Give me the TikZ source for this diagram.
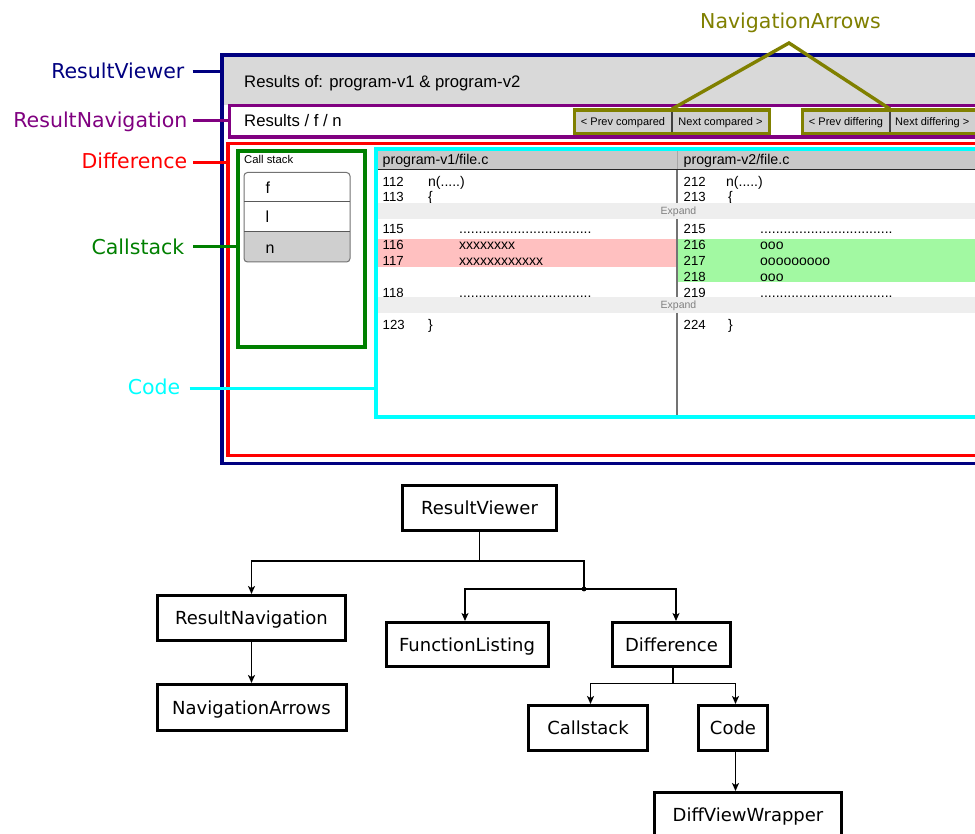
\documentclass[tikz,border=0pt]{standalone}
\usepackage{fontspec}
\setmainfont{DejaVu Sans}
\newfontfamily\uifont{Liberation Sans}
\usetikzlibrary{arrows.meta}

\definecolor{rvnavy}{HTML}{000080}
\definecolor{rvpurple}{HTML}{800080}
\definecolor{rvred}{HTML}{FF0000}
\definecolor{rvgreen}{HTML}{008000}
\definecolor{rvcyan}{HTML}{00FFFF}
\definecolor{rvolive}{HTML}{808000}
\definecolor{hdrgray}{HTML}{D9D9D9}
\definecolor{btngray}{HTML}{D0D0D0}
\definecolor{colgray}{HTML}{C8C8C8}
\definecolor{expgray}{HTML}{EEEEEE}
\definecolor{delred}{HTML}{FFC0C0}
\definecolor{addgreen}{HTML}{A2F9A2}
\definecolor{rowgray}{HTML}{CFCFCF}

\newcommand\dotrun{..................................}

\begin{document}
\begin{tikzpicture}[x=1pt,y=-1pt,
  callout/.style={font=\fontsize{20.5}{24}\selectfont, inner sep=0pt,
                  text height=14.8pt, text depth=0pt, anchor=east},
  leader/.style={line width=3pt},
  tbox/.style={draw, line width=3pt, font=\fontsize{18}{22}\selectfont,
               inner sep=0pt, text height=13.1pt, text depth=0pt},
  wire/.style={line width=1.6pt},
  edge/.style={wire, -{Stealth[length=8pt,width=7pt,inset=2pt]}},
  uitext/.style={font=\uifont\fontsize{16.7}{20}\selectfont, inner sep=0pt, anchor=mid west, yshift=-2.5pt},
  btntext/.style={font=\uifont\fontsize{11}{13}\selectfont, inner sep=0pt, yshift=-1pt},
  codetext/.style={font=\uifont\fontsize{14}{16}\selectfont, inner sep=0pt, anchor=mid west, yshift=-2.2pt},
  lnum/.style={font=\uifont\fontsize{13.2}{16}\selectfont, inner sep=0pt, anchor=mid west, yshift=-2.2pt},
  exptext/.style={font=\uifont\fontsize{10.5}{12}\selectfont, text=black!50, inner sep=0pt},
  listtext/.style={font=\uifont\fontsize{16}{18}\selectfont, inner sep=0pt, anchor=mid west, yshift=-2.5pt},
]
\clip (0,0) rectangle (975,834);
\fill[white] (0,0) rectangle (975,834);

% ---------------- application window ----------------
\fill[hdrgray] (222,55) rectangle (990,105);
\draw[rvnavy, line width=3.5pt] (222,55) rectangle (990,463.5);
\node[uitext] (hdr) at (244,82) {Results of: program-v1 \& program-v2};

% navigation bar
\draw[rvpurple, line width=3.5pt, fill=white] (229.5,105.5) rectangle (990,137);
\node[uitext] (crumbs) at (244,121.5) {Results / f / n};

% navigation buttons
\draw[rvolive, line width=3.4pt, fill=btngray] (574.7,110) rectangle (769.3,133.3);
\draw[rvolive, line width=3.4pt, fill=btngray] (802.7,110) rectangle (990,133.3);
\draw[black!75, line width=1.1pt] (672,111.7) -- (672,131.6);
\draw[black!75, line width=1.1pt] (890,111.7) -- (890,131.6);
\node[btntext] (prevc) at (623,121.5) {< Prev compared};
\node[btntext] (nextc) at (720.5,121.5) {Next compared >};
\node[btntext] (prevd) at (846,121.5) {< Prev differing};
\node[btntext, anchor=mid west] (nextd) at (895,121.5) {Next differing >};

% difference panel
\draw[rvred, line width=3.5pt] (228,143.7) rectangle (990,455.5);

% call stack
\node[font=\uifont\fontsize{11.3}{13}\selectfont, inner sep=0pt, anchor=mid west, yshift=-1.5pt] (cstitle) at (244,159.5) {Call stack};
\begin{scope}
  \clip[rounded corners=3.5pt] (244,172.5) rectangle (350,262);
  \fill[rowgray] (244,232) rectangle (350,262);
\end{scope}
\draw[black!55, line width=1pt, rounded corners=3.5pt] (244,172.5) rectangle (350,262);
\draw[black!65, line width=1pt] (244,202) -- (350,202);
\draw[black!65, line width=1pt] (244,232) -- (350,232);
\node[listtext] (fr1) at (265.5,188) {f};
\node[listtext] (fr2) at (265.5,217.5) {l};
\node[listtext] (fr3) at (265.5,248) {n};
\draw[rvgreen, line width=4pt] (237.5,150.7) rectangle (365,347);

% code table
\fill[colgray] (378,150.7) rectangle (990,169);
\draw[black!85, line width=1.3pt] (378,169.5) -- (990,169.5);
\draw[black!35, line width=1pt] (677,150.7) -- (677,169);
\node[codetext, font=\uifont\fontsize{14.2}{16}\selectfont] (lhead) at (382.5,160) {program-v1/file.c};
\node[codetext, font=\uifont\fontsize{14.2}{16}\selectfont] (rhead) at (683.5,160) {program-v2/file.c};

\fill[delred] (378,239) rectangle (676.3,267);
\fill[addgreen] (677.8,239.5) rectangle (990,282.5);
\draw[black!55, line width=1.3pt] (677,170.2) -- (677,415);

% left side lines
\node[lnum] at (382.5,181.5) {112}; \node[codetext] at (428,181.5) {n(.....)};
\node[lnum] at (382.5,197)   {113}; \node[codetext] at (428,197)   {\{};
\node[lnum] at (382.5,229)   {115}; \node[codetext] at (459,229)   {\dotrun};
\node[lnum] at (382.5,245)   {116}; \node[codetext] at (459,245)   {xxxxxxxx};
\node[lnum] at (382.5,261)   {117}; \node[codetext] at (459,261)   {xxxxxxxxxxxx};
\node[lnum] at (382.5,293)   {118}; \node[codetext] at (459,293)   {\dotrun};
\node[lnum] at (382.5,324.5) {123}; \node[codetext] at (428,324.5) {\}};

% right side lines
\node[lnum] at (683.5,181.5) {212}; \node[codetext] at (726,181.5) {n(.....)};
\node[lnum] at (683.5,197)   {213}; \node[codetext] at (728,197)   {\{};
\node[lnum] at (683.5,229)   {215}; \node[codetext] at (760,229)   {\dotrun};
\node[lnum] at (683.5,245)   {216}; \node[codetext] at (760,245)   {ooo};
\node[lnum] at (683.5,261)   {217}; \node[codetext] at (760,261)   {ooooooooo};
\node[lnum] at (683.5,277)   {218}; \node[codetext] at (760,277)   {ooo};
\node[lnum] at (683.5,293)   {219}; \node[codetext] at (760,293)   {\dotrun};
\node[lnum] at (683.5,324.5) {224}; \node[codetext] at (728,324.5) {\}};

% collapsed regions
\fill[expgray] (378,203.5) rectangle (990,219);
\fill[expgray] (378,297.2) rectangle (990,313);
\node[exptext] (exp1) at (678.5,211.5) {Expand};
\node[exptext] (exp2) at (678.5,305.3) {Expand};

\draw[rvcyan, line width=4pt] (376,148.7) rectangle (990,417);

% ---------------- callouts ----------------
\node[callout, text=rvnavy] (cRV) at (184.5,70.8) {ResultViewer};
\coordinate (pRV) at (222,72);
\draw[leader, rvnavy] (cRV.east |- pRV) ++(8,0) -- (pRV);

\node[callout, text=rvpurple] (cRN) at (187.5,120.5) {ResultNavigation};
\coordinate (pRN) at (229.5,121);
\draw[leader, rvpurple] (cRN.east |- pRN) ++(5.5,0) -- (pRN);

\node[callout, text=rvred] (cDF) at (187.5,161) {Difference};
\coordinate (pDF) at (228,163);
\draw[leader, rvred] (cDF.east |- pDF) ++(5.5,0) -- (pDF);

\node[callout, text=rvgreen] (cCS) at (184.5,247) {Callstack};
\coordinate (pCS) at (237.5,247);
\draw[leader, rvgreen] (cCS.east |- pCS) ++(8.5,0) -- (pCS);

\node[callout, text=rvcyan] (cCD) at (180.5,387.5) {Code};
\coordinate (pCD) at (376,389);
\draw[leader, rvcyan] (cCD.east |- pCD) ++(9,0) -- (pCD);

\node[callout, anchor=center, text=rvolive] (cNA) at (790.5,21.5) {NavigationArrows};
\coordinate (apex) at (789,43);
\coordinate (pNA1) at (672,109);
\coordinate (pNA2) at (890,109);
\draw[leader, rvolive, line width=3.4pt] (pNA1) -- (apex) -- (pNA2);

% ---------------- component tree ----------------
\node[tbox, minimum width=154pt, minimum height=45pt] (tRV) at (479.5,508) {ResultViewer};
\node[tbox, minimum width=188pt, minimum height=45pt] (tRN) at (251.5,618) {ResultNavigation};
\node[tbox, minimum width=162pt, minimum height=44pt] (tFL) at (467,644.5) {FunctionListing};
\node[tbox, minimum width=118pt, minimum height=44pt] (tDF) at (671.5,644.5) {Difference};
\node[tbox, minimum width=189pt, minimum height=46pt] (tNA) at (251.5,707.5) {NavigationArrows};
\node[tbox, minimum width=119pt, minimum height=45pt] (tCS) at (588,728) {Callstack};
\node[tbox, minimum width=69pt, minimum height=45pt] (tCD) at (733,728) {Code};
\node[tbox, minimum width=187pt, minimum height=45pt] (tDV) at (748,815) {DiffViewWrapper};

\path (tRV.south) ++(0,29) coordinate (jA);
\coordinate (jB) at (584,589);
\draw[edge] (tRV.south) -- (jA) -| (tRN.north);
\draw[wire] (jA) -| (jB);
\fill (jB) circle (2.4pt);
\draw[edge] (jB) -| ([xshift=-2pt]tFL.north);
\draw[edge] (jB) -| ([xshift=4.5pt]tDF.north);
\draw[edge] (tRN.south) -- (tNA.north);

\path ([xshift=1.5pt]tDF.south) ++(0,15.5) coordinate (jC);
\draw[wire] ([xshift=1.5pt]tDF.south) -- (jC);
\draw[edge] (jC) -| ([xshift=2.5pt]tCS.north);
\draw[edge] (jC) -| ([xshift=2.5pt]tCD.north);
\draw[edge] ([xshift=2.5pt]tCD.south) -- ([xshift=2.5pt]tCD.south |- tDV.north);

\end{tikzpicture}
\end{document}
